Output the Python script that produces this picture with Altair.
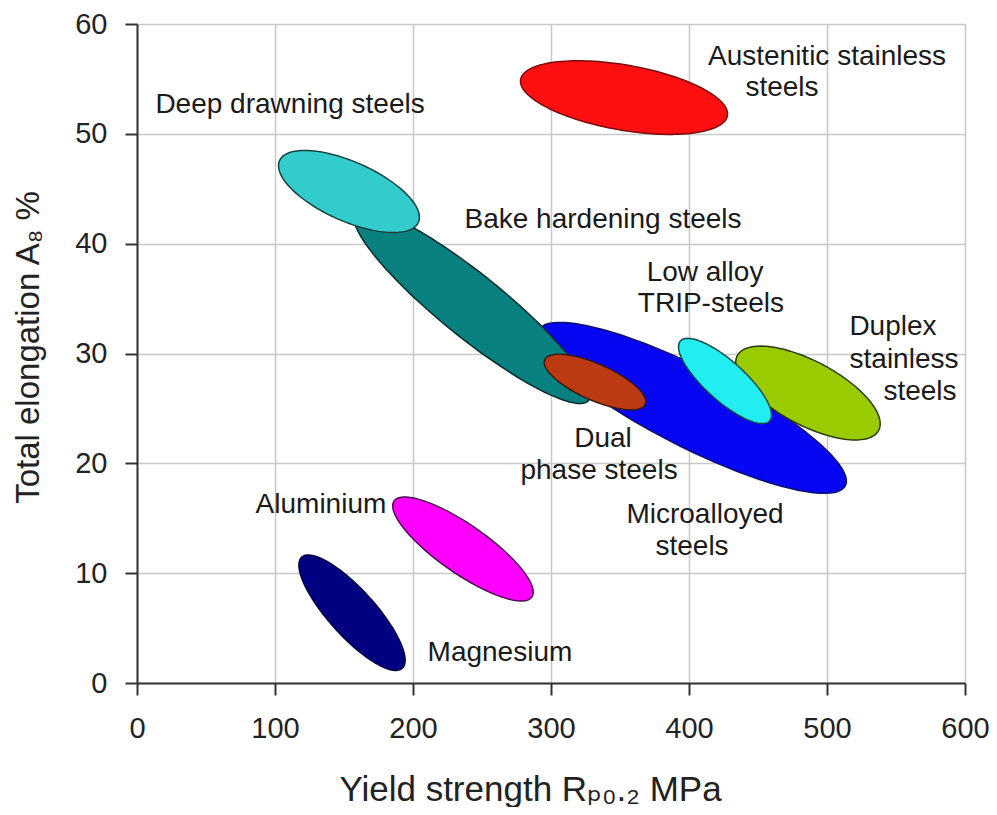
import numpy as np
import pandas as pd
import altair as alt

# ---- data -------------------------------------------------------------
# each material region: major-axis end points (MPa, %) and minor/major ratio
names = ["Microalloyed steels", "Bake hardening steels", "Deep drawning steels",
         "Dual phase steels", "Duplex stainless steels", "Low alloy TRIP-steels",
         "Austenitic stainless steels", "Aluminium", "Magnesium"]
x_start = [291.1, 158.3, 103.3, 295.5, 435.0, 393.8, 278.0, 186.3, 119.4]
y_start = [32.14, 42.87, 47.56, 29.43, 29.81, 31.14, 54.95, 16.57, 11.46]
x_end = [513.3, 327.3, 203.9, 368.3, 537.4, 458.4, 427.8, 286.1, 192.2]
y_end = [17.96, 25.73, 41.94, 25.37, 22.99, 23.86, 51.65, 7.83, 1.34]
width_ratio = [0.23, 0.21, 0.39, 0.33, 0.40, 0.33, 0.31, 0.29, 0.31]

label_text = ["Austenitic stainless", "steels", "Deep drawning steels",
              "Bake hardening steels", "Low alloy", "TRIP-steels",
              "Duplex", "stainless", "steels", "Dual", "phase steels",
              "Microalloyed", "steels", "Aluminium", "Magnesium"]
label_x = [500.0, 467.4, 110.9, 337.7, 411.6, 415.9, 547.8, 555.8, 567.4,
           337.7, 334.8, 411.6, 402.2, 133.3, 263.0]
label_y = [57.0, 54.2, 52.65, 42.2, 37.3, 34.5, 32.4, 29.4, 26.5,
           22.2, 19.3, 15.3, 12.35, 16.25, 2.7]

x_ticks = [0, 100, 200, 300, 400, 500, 600]
y_ticks = [0, 10, 20, 30, 40, 50, 60]

# ---- styles -------------------------------------------------------------
fills = ["#0606f2", "#088080", "#33cccc", "#bb3a12", "#99cc00", "#22eef2",
         "#ff1010", "#ff00ff", "#000080"]
outlines = ["#10106a", "#0d2a2a", "#163f3f", "#3a1a10", "#2a3a10", "#124a4a",
            "#7a0a0a", "#4a1050", "#000040"]

W, H = 828, 659
kx, ky = W / 600.0, H / 60.0

rows = []
t = np.linspace(0, 2 * np.pi, 145)
for k, name in enumerate(names):
    u1, v1 = x_start[k] * kx, y_start[k] * ky
    u2, v2 = x_end[k] * kx, y_end[k] * ky
    cu, cv = (u1 + u2) / 2, (v1 + v2) / 2
    au, av = (u2 - u1) / 2, (v2 - v1) / 2
    bu, bv = -av * width_ratio[k], au * width_ratio[k]
    us = cu + np.cos(t) * au + np.sin(t) * bu
    vs = cv + np.cos(t) * av + np.sin(t) * bv
    for i, (u, v) in enumerate(zip(us, vs)):
        rows.append({"shape": name, "i": i, "x": u / kx, "y": v / ky})
df = pd.DataFrame(rows)

df_text = pd.DataFrame({"x": label_x, "y": label_y, "label": label_text})

FONT = "Liberation Sans, Arial, DejaVu Sans, sans-serif"

xaxis = alt.Axis(values=x_ticks, title="Yield strength Rₚ₀.₂ MPa",
                 tickSize=12, tickWidth=2, tickColor="#333", domainColor="#333",
                 domainWidth=2, gridColor="#c8c8c8", gridWidth=1.5,
                 labelFontSize=29, labelFont=FONT, labelColor="#222",
                 labelPadding=19, labelFlush=False, labelOverlap=False,
                 titleFontSize=35, titleFont=FONT, titleFontWeight="normal",
                 titleColor="#222", titleX=393, titleY=117,
                 titleBaseline="alphabetic", titleAlign="center")
yaxis = alt.Axis(values=y_ticks, title="Total elongation A₈ %",
                 tickSize=12, tickWidth=2, tickColor="#333", domainColor="#333",
                 domainWidth=2, gridColor="#c8c8c8", gridWidth=1.5,
                 labelFontSize=29, labelFont=FONT, labelColor="#222",
                 labelPadding=18, labelFlush=False, labelOverlap=False,
                 titleFontSize=33, titleFont=FONT, titleFontWeight="normal",
                 titleColor="#222", titleX=-99, titleY=323, titleAngle=270,
                 titleBaseline="alphabetic", titleAlign="center")

xs = alt.Scale(domain=[0, 600], nice=False, zero=False)
ys = alt.Scale(domain=[0, 60], nice=False, zero=False)

base = alt.Chart(df)
layers = []
for k, name in enumerate(names):
    layers.append(
        base.transform_filter(alt.datum.shape == name)
        .mark_line(filled=True, fill=fills[k], stroke=outlines[k],
                   strokeWidth=1.5, strokeJoin="round")
        .encode(x=alt.X("x:Q", scale=xs, axis=xaxis),
                y=alt.Y("y:Q", scale=ys, axis=yaxis),
                order=alt.Order("i:Q"))
    )

text = alt.Chart(df_text).mark_text(
    font=FONT, fontSize=28, color="#1a1a1a", align="center", baseline="middle"
).encode(x=alt.X("x:Q", scale=xs, axis=xaxis),
         y=alt.Y("y:Q", scale=ys, axis=yaxis),
         text="label:N")

chart = alt.layer(*layers, text).properties(
    width=W, height=H,
    autosize=alt.AutoSizeParams(type="none"),
    padding={"left": 129, "top": 16, "right": 24, "bottom": 124},
    background="white",
).configure_view(strokeWidth=0)

chart.save("out.html", embed_options={"renderer": "svg", "actions": False})
